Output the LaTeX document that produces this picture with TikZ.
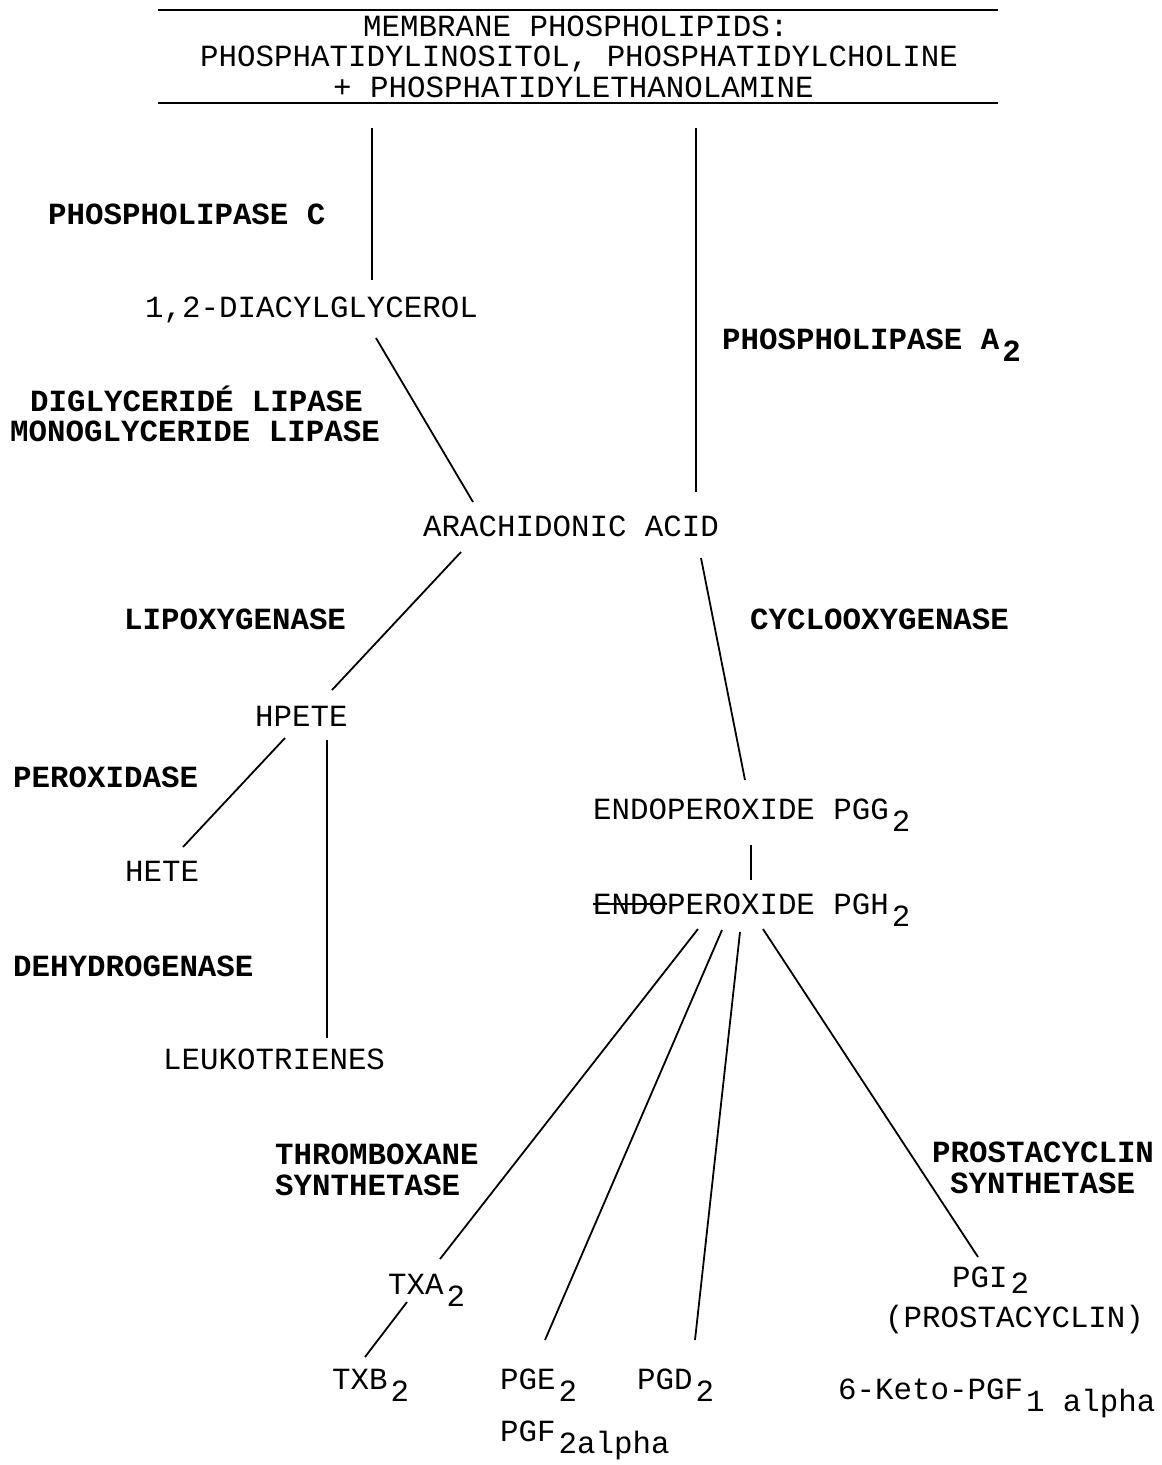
\documentclass[tikz,border=0pt]{standalone}
\usepackage{fontspec}
\setmainfont{Liberation Mono}
\begin{document}
\begin{tikzpicture}[x=1pt,y=-1pt,
  t/.style={inner sep=0pt,anchor=base west,font=\fontsize{30.8}{34}\selectfont},
  b/.style={t,font=\fontsize{30.8}{34}\selectfont\bfseries},
  ln/.style={line width=1.8pt},
  rl/.style={line width=2.6pt}]
\newcommand\lo[1]{\hspace{3pt}\raisebox{-12pt}{#1}}
\newcommand\loi[1]{\hspace{3pt}\raisebox{-6pt}{#1}}
\newcommand\strk[1]{\setbox0\hbox{#1}\rlap{\rule[0.3em]{\wd0}{1.5pt}}\box0}
\useasboundingbox (0,0) rectangle (1162,1465);
% header
\coordinate (r1a) at (158,10); \coordinate (r1b) at (998,10);
\coordinate (r2a) at (158,103); \coordinate (r2b) at (998,103);
\draw[rl] (r1a) -- (r1b);
\draw[rl] (r2a) -- (r2b);
\node[t] (h1) at (363,36) {MEMBRANE PHOSPHOLIPIDS:};
\node[t] (h2) at (200,66) {PHOSPHATIDYLINOSITOL, PHOSPHATIDYLCHOLINE};
\node[t] (h3) at (333,97) {+ PHOSPHATIDYLETHANOLAMINE};
% enzymes
\node[b] (pc) at (48,224) {PHOSPHOLIPASE C};
\node[b] (pla) at (722,349) {PHOSPHOLIPASE A\lo{2}};
\node[b] (dgl) at (30,411) {DIGLYCERIDÉ LIPASE};
\node[b] (mgl) at (10,441) {MONOGLYCERIDE LIPASE};
\node[b] (lox) at (124,629) {LIPOXYGENASE};
\node[b] (cox) at (750,629) {CYCLOOXYGENASE};
\node[b] (perox) at (13,787) {PEROXIDASE};
\node[b] (dehyd) at (13,976) {DEHYDROGENASE};
\node[b] (thr1) at (275,1164) {THROMBOXANE};
\node[b] (thr2) at (275,1195) {SYNTHETASE};
\node[b] (pro1) at (932,1162) {PROSTACYCLIN};
\node[b] (pro2) at (950,1193) {SYNTHETASE};
% compounds
\node[t] (dag) at (145,317) {1,2-DIACYLGLYCEROL};
\node[t] (aa) at (423,536) {ARACHIDONIC ACID};
\node[t] (hpete) at (255,726) {HPETE};
\node[t] (hete) at (125,881) {HETE};
\node[t] (leuk) at (163,1069) {LEUKOTRIENES};
\node[t] (pgg) at (593,819) {ENDOPEROXIDE PGG\lo{2}};
\node[t] (pgh) at (593,914) {\strk{ENDO}PEROXIDE PGH\lo{2}};
\node[t] (txa) at (388,1294) {TXA\lo{2}};
\node[t] (txb) at (332,1389) {TXB\lo{2}};
\node[t] (pge) at (500,1389) {PGE\lo{2}};
\node[t] (pgd) at (637,1389) {PGD\lo{2}};
\node[t] (pgf) at (500,1441) {PGF\lo{2alpha}};
\node[t] (pgi) at (952,1287) {PGI\loi{2}};
\node[t] (pcy) at (885,1327) {(PROSTACYCLIN)};
\node[t] (keto) at (838,1399) {6-Keto-PGF\lo{1 alpha}};
% connector end points
\coordinate (m1) at (372,128); \coordinate (d1) at (372,280);
\coordinate (m2) at (696,128); \coordinate (a2) at (696,492);
\coordinate (d2) at (376,338); \coordinate (a1) at (473,502);
\coordinate (a3) at (461,552); \coordinate (hp1) at (332,690);
\coordinate (a4) at (701,558); \coordinate (g1) at (745,780);
\coordinate (hp2) at (285,738); \coordinate (he1) at (183,847);
\coordinate (hp3) at (327,740); \coordinate (le1) at (327,1038);
\coordinate (g2) at (751,845); \coordinate (h1c) at (751,880);
\coordinate (hA) at (698,929); \coordinate (tA) at (440,1259);
\coordinate (hE) at (722,930); \coordinate (eE) at (545,1340);
\coordinate (hD) at (740,932); \coordinate (dD) at (695,1340);
\coordinate (hI) at (763,929); \coordinate (iI) at (978,1257);
\coordinate (tA2) at (407,1302); \coordinate (tB) at (365,1357);
% connectors
\draw[ln] (m1) -- (d1);
\draw[ln] (m2) -- (a2);
\draw[ln] (d2) -- (a1);
\draw[ln] (a3) -- (hp1);
\draw[ln] (a4) -- (g1);
\draw[ln] (hp2) -- (he1);
\draw[ln] (hp3) -- (le1);
\draw[ln] (g2) -- (h1c);
\draw[ln] (hA) -- (tA);
\draw[ln] (hE) -- (eE);
\draw[ln] (hD) -- (dD);
\draw[ln] (hI) -- (iI);
\draw[ln] (tA2) -- (tB);
\end{tikzpicture}
\end{document}
